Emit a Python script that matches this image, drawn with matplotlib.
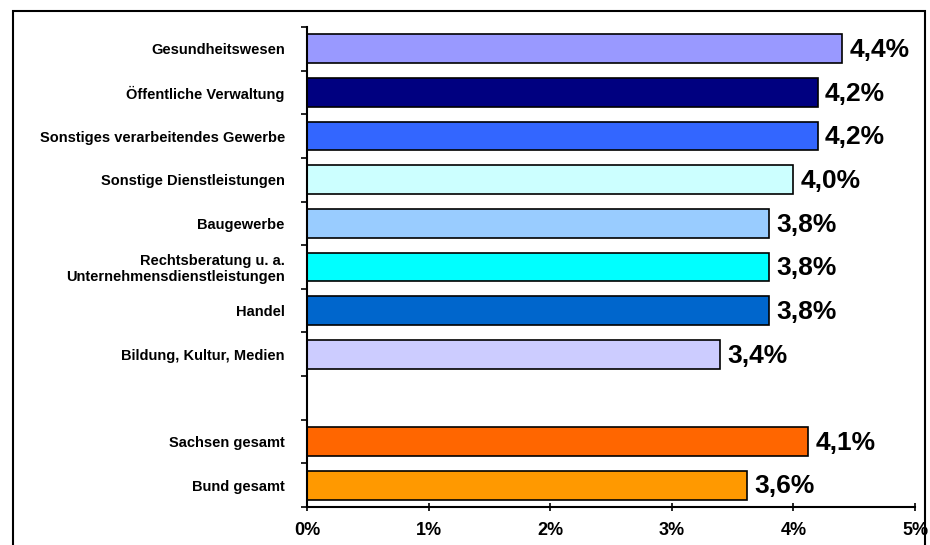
import matplotlib
matplotlib.use("Agg")
import matplotlib.pyplot as plt
from matplotlib.patches import Rectangle
from matplotlib.ticker import FixedLocator

categories = [
    "Gesundheitswesen",
    "Öffentliche Verwaltung",
    "Sonstiges verarbeitendes Gewerbe",
    "Sonstige Dienstleistungen",
    "Baugewerbe",
    "Rechtsberatung u. a.\nUnternehmensdienstleistungen",
    "Handel",
    "Bildung, Kultur, Medien",
    "",
    "Sachsen gesamt",
    "Bund gesamt",
]
values = [4.4, 4.2, 4.2, 4.0, 3.8, 3.8, 3.8, 3.4, None, 4.12, 3.62]
value_labels = ["4,4%", "4,2%", "4,2%", "4,0%", "3,8%", "3,8%", "3,8%", "3,4%", "", "4,1%", "3,6%"]
colors = ["#9999FF", "#000080", "#3366FF", "#CCFFFF", "#99CCFF", "#00FFFF",
          "#0066CC", "#CCCCFF", "#FFFFFF", "#FF6600", "#FF9900"]
xticks = [0, 1, 2, 3, 4, 5]
xticklabels = ["0%", "1%", "2%", "3%", "4%", "5%"]

plt.rcParams['font.family'] = ['Liberation Sans', 'DejaVu Sans']
plt.rcParams['font.weight'] = 'bold'

fig = plt.figure(figsize=(9.3, 5.45), dpi=100)
ax = fig.add_axes([307/930, (545-507)/545, (915-307)/930, (507-27)/545])

n = len(categories)
ypos = list(range(n))
for y, v, c, lab in zip(ypos, values, colors, value_labels):
    if v is None:
        continue
    ax.barh(y, v, height=0.66, color=c, edgecolor="black", linewidth=1.2)
    ax.text(v + 0.06, y + 0.03, lab, va="center", ha="left", fontsize=19, fontweight="bold")

ax.set_xlim(0, 5)
ax.set_ylim(n - 0.5, -0.5)
ax.set_xticks(xticks)
ax.set_xticklabels(xticklabels, fontsize=13, fontweight="bold")
ax.set_yticks(ypos)
ax.set_yticklabels(categories, fontsize=10.5, fontweight="bold", linespacing=1.1)
ax.yaxis.set_minor_locator(FixedLocator([i - 0.5 for i in range(n + 1)]))
ax.tick_params(axis="y", which="major", length=0, pad=16)
ax.tick_params(axis="y", which="minor", length=4, width=1.2, direction="out")
ax.tick_params(axis="x", which="major", length=6, width=1.2, direction="inout", pad=8)
for s in ["top", "right"]:
    ax.spines[s].set_visible(False)
for s in ["left", "bottom"]:
    ax.spines[s].set_linewidth(1.5)

# outer frame
fig.patches.append(Rectangle((13/930, -0.1), (925-13)/930, 1.1 - 11/545,
                             transform=fig.transFigure, fill=False,
                             edgecolor="black", linewidth=1.5))

fig.savefig("out.png", dpi=100)
